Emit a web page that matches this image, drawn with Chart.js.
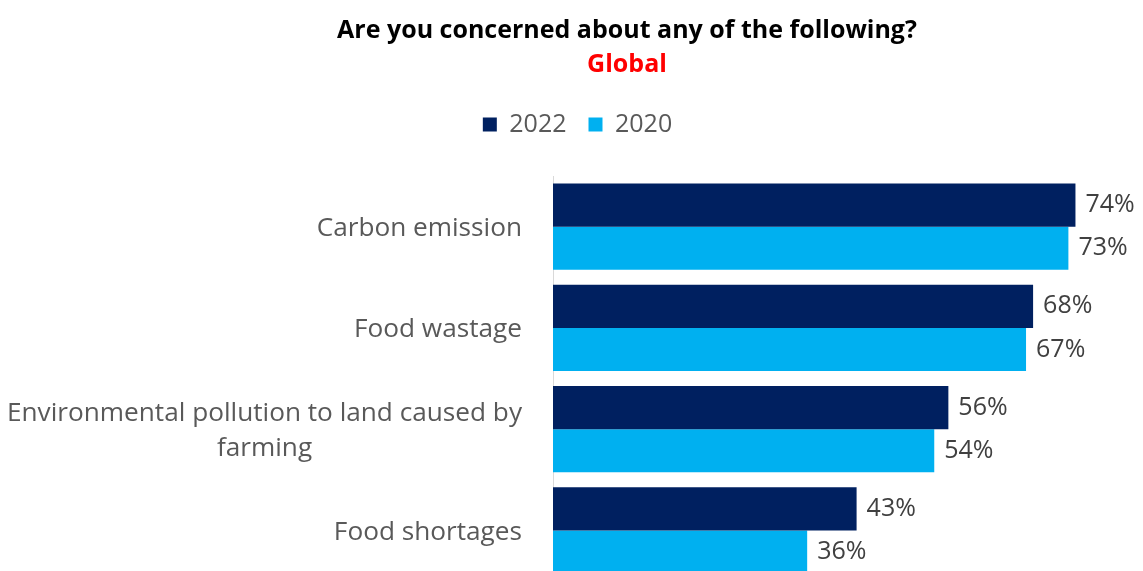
<!DOCTYPE html>
<html>
<head>
<meta charset="utf-8">
<script src="https://cdn.jsdelivr.net/npm/chart.js@4"></script>
<style>
  html, body { margin: 0; padding: 0; background: #fff; overflow: hidden; }
  #wrap { width: 1143px; height: 585px; position: relative; }
</style>
</head>
<body>
<div id="wrap"><canvas id="chart"></canvas></div>
<script>
const titleText = 'Are you concerned about any of the following?';
const subtitleText = 'Global';
const categories = ['Carbon emission', 'Food wastage', ['Environmental pollution to land caused by', 'farming'], 'Food shortages'];
const seriesNames = ['2022', '2020'];
const values2022 = [74, 68, 56, 43];
const values2020 = [73, 67, 54, 36];

const FONT = "'Open Sans', sans-serif";
const GREY = '#595959';

// title + subtitle, centred a bit right of the canvas middle like the original
const titlePlugin = {
    id: 'titleText',
    afterDraw(chart) {
        const ctx = chart.ctx;
        ctx.save();
        ctx.textAlign = 'center';
        ctx.textBaseline = 'middle';
        ctx.font = `bold 25px ${FONT}`;
        ctx.fillStyle = '#000000';
        ctx.fillText(titleText, 627, 31);
        ctx.fillStyle = '#FF0000';
        ctx.fillText(subtitleText, 627, 65);
        ctx.restore();
    }
};

// push the plot area down below the legend, nudge legend right a little
const legendSpace = {
    id: 'legendSpace',
    beforeInit(chart) {
        const fit = chart.legend.fit;
        chart.legend.fit = function() {
            fit.bind(chart.legend)();
            this.height += 29;
        };
    },
    afterLayout(chart) {
        chart.legend.left += 8;
        chart.legend.right += 8;
    }
};

// category labels: right aligned block, lines centred inside it
const yLabels = {
    id: 'yLabels',
    afterDraw(chart) {
        const ctx = chart.ctx;
        const y = chart.scales.y;
        ctx.save();
        ctx.font = `26.2px ${FONT}`;
        ctx.fillStyle = GREY;
        ctx.textAlign = 'center';
        ctx.textBaseline = 'middle';
        const right = 522, lineH = 35;
        categories.forEach((c, i) => {
            const lines = Array.isArray(c) ? c : [c];
            const w = Math.max(...lines.map(l => ctx.measureText(l).width));
            const cy = y.getPixelForValue(i) + 2;
            lines.forEach((l, j) => {
                ctx.fillText(l, right - w / 2, cy + (j - (lines.length - 1) / 2) * lineH);
            });
        });
        ctx.restore();
    }
};

// value labels at the end of each bar
const valueLabels = {
    id: 'valueLabels',
    afterDatasetsDraw(chart) {
        const ctx = chart.ctx;
        ctx.save();
        ctx.font = `25px ${FONT}`;
        ctx.fillStyle = '#404040';
        ctx.textAlign = 'left';
        ctx.textBaseline = 'middle';
        chart.data.datasets.forEach((ds, di) => {
            chart.getDatasetMeta(di).data.forEach((bar, i) => {
                ctx.fillText(ds.data[i] + '%', bar.x + 10, bar.y);
            });
        });
        ctx.restore();
    }
};

new Chart(document.getElementById('chart'), {
    type: 'bar',
    data: {
        labels: categories,
        datasets: [
            { label: seriesNames[0], data: values2022, backgroundColor: '#002060' },
            { label: seriesNames[1], data: values2020, backgroundColor: '#00B0F0' }
        ]
    },
    options: {
        indexAxis: 'y',
        responsive: true,
        maintainAspectRatio: false,
        animation: false,
        layout: { padding: { top: 90, right: 4, bottom: 4, left: 0 } },
        datasets: {
            bar: { categoryPercentage: 0.85, barPercentage: 1.0 }
        },
        plugins: {
            legend: {
                position: 'top',
                labels: {
                    boxWidth: 14,
                    boxHeight: 14,
                    color: GREY,
                    font: { family: FONT, size: 25 },
                    padding: 22
                }
            },
            tooltip: { enabled: false }
        },
        scales: {
            x: { display: false, min: 0, max: 83 },
            y: {
                afterFit(scale) { scale.width = 553; },
                ticks: { display: false },
                grid: { display: false },
                border: { display: true, color: '#D9D9D9', width: 1 }
            }
        }
    },
    plugins: [titlePlugin, legendSpace, yLabels, valueLabels]
});
</script>
</body>
</html>
